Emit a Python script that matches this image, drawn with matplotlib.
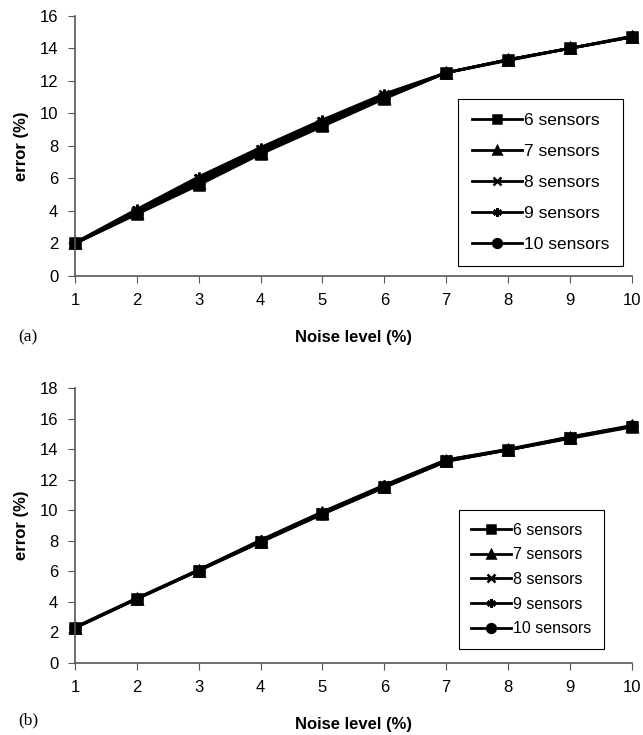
import matplotlib.pyplot as plt
import numpy as np

plt.rcParams['font.family'] = ['Liberation Sans', 'DejaVu Sans']

# noise levels (%)
noise = [1, 2, 3, 4, 5, 6, 7, 8, 9, 10]
labels = ['6 sensors', '7 sensors', '8 sensors', '9 sensors', '10 sensors']

# panel (a)
err_a_6 = [2.0, 3.8, 5.6, 7.5, 9.2, 10.9, 12.5, 13.3, 14.0, 14.7]
err_a_7 = [2.0, 3.85, 5.7, 7.55, 9.3, 10.95, 12.5, 13.3, 14.0, 14.7]
err_a_8 = [2.0, 4.0, 5.95, 7.75, 9.5, 11.1, 12.5, 13.25, 14.0, 14.7]
err_a_9 = [2.05, 4.1, 6.1, 7.9, 9.6, 11.2, 12.5, 13.3, 14.0, 14.75]
err_a_10 = [2.0, 3.9, 5.8, 7.6, 9.35, 11.0, 12.5, 13.3, 14.0, 14.7]

# panel (b)
err_b_6 = [2.3, 4.2, 6.05, 7.95, 9.75, 11.5, 13.2, 13.95, 14.7, 15.45]
err_b_7 = [2.3, 4.2, 6.05, 7.95, 9.8, 11.55, 13.25, 13.95, 14.75, 15.5]
err_b_8 = [2.3, 4.2, 6.1, 8.0, 9.85, 11.6, 13.3, 13.95, 14.8, 15.5]
err_b_9 = [2.35, 4.25, 6.1, 8.05, 9.9, 11.65, 13.3, 14.0, 14.8, 15.55]
err_b_10 = [2.3, 4.2, 6.05, 7.9, 9.75, 11.5, 13.2, 13.95, 14.75, 15.5]

markers = ['s', '^', 'x', (6, 2, 0), 'o']


def draw_panel(ax, series, ymax, tag, tag_y, legend_box, spacing, legsize, hlen):
    for vals, lab, m in zip(series, labels, markers):
        ax.plot(noise, vals, color='black', lw=2, marker=m, ms=7,
                mew=1.8, label=lab, clip_on=False)
    ax.set_xlim(1, 10)
    ax.set_ylim(0, ymax)
    ax.set_xticks(noise)
    ax.set_yticks(np.arange(0, ymax + 1, 2))
    for s in ['top', 'right']:
        ax.spines[s].set_visible(False)
    for s in ['left', 'bottom']:
        ax.spines[s].set_color('#555555')
        ax.spines[s].set_linewidth(1.2)
    ax.tick_params(direction='out', length=5, color='#555555', labelsize=12,
                   pad=7)
    ax.set_xlabel('Noise level (%)', fontweight='bold', fontsize=12, labelpad=16)
    ax.set_ylabel('error (%)', fontweight='bold', fontsize=12, labelpad=8)
    leg = ax.legend(loc='upper left', bbox_to_anchor=legend_box, fontsize=legsize,
                    fancybox=False, edgecolor='black', handlelength=hlen,
                    handletextpad=0.1, labelspacing=spacing, borderpad=0.8,
                    borderaxespad=0, framealpha=1, markerscale=0.9)
    leg.get_frame().set_linewidth(0.8)
    ax.figure.text(18 / 643, tag_y, tag, va='center', ha='left', fontsize=12.5,
                   family=['Liberation Serif', 'DejaVu Serif'])


fig = plt.figure(figsize=(6.43, 7.35), dpi=100)
ax1 = fig.add_axes([0.1166, 0.6245, 0.866, 0.354])
ax2 = fig.add_axes([0.1166, 0.098, 0.866, 0.374])

draw_panel(ax1, [err_a_6, err_a_7, err_a_8, err_a_9, err_a_10], 16, '(a)',
           1 - 337 / 735, (0.688, 0.681), 0.92, 12.5, 2.9)
draw_panel(ax2, [err_b_6, err_b_7, err_b_8, err_b_9, err_b_10], 18, '(b)',
           1 - 720 / 735, (0.689, 0.556), 0.6, 11.5, 2.5)

fig.savefig('out.png', dpi=100)
